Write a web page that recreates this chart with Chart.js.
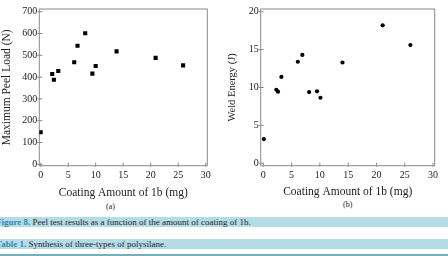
<!DOCTYPE html>
<html>
<head>
<meta charset="utf-8">
<script src="https://cdn.jsdelivr.net/npm/chart.js@4"></script>
<style>
  body { margin: 0; width: 448px; height: 256px; background: #fff; overflow: hidden; position: relative; font-family: "Liberation Serif", serif; }
  .panel { position: absolute; top: 0; width: 224px; height: 200px; }
  .sub { position: absolute; font-size: 8px; color: #222; }
  .bar { position: absolute; left: 0; width: 448px; height: 10px; background: #b4dce7; font-size: 9px; line-height: 10px; color: #1e1e1e; white-space: nowrap; }
  .bar b { color: #2f8bb0; font-weight: bold; }
  .rule { position: absolute; left: 0; top: 254px; width: 448px; height: 2px; background: #78adbb; }
</style>
</head>
<body>
<div class="panel" style="left:0"><canvas id="chartA"></canvas></div>
<div class="panel" style="left:224px"><canvas id="chartB"></canvas></div>
<div class="sub" style="left:106px; top:202px">(a)</div>
<div class="sub" style="left:343px; top:200px">(b)</div>
<div class="bar" style="top:216.5px"><span style="margin-left:-4px"></span><b>Figure 8.</b> Peel test results as a function of the amount of coating of 1b.</div>
<div class="bar" style="top:238.5px"><span style="margin-left:-4px"></span><b>Table 1.</b> Synthesis of three-types of polysilane.</div>
<div class="rule"></div>
<script>
// Values.
var xTicks = [0, 5, 10, 15, 20, 25, 30];
var peelTicks = [0, 100, 200, 300, 400, 500, 600, 700];
var weldTicks = [0, 5, 10, 15, 20];

var coatingA = [0, 2.1, 2.4, 3.2, 6.1, 6.7, 8.1, 9.4, 10, 13.8, 20.9, 25.9];
var peelLoad = [147, 414, 388, 428, 468, 544, 601, 416, 451, 518, 488, 454];

var coatingB = [0.1, 2.3, 2.6, 3.2, 6.1, 6.9, 8.1, 9.5, 10.1, 14, 21.1, 26];
var weldEnergy = [3.2, 9.7, 9.45, 11.4, 13.4, 14.3, 9.4, 9.5, 8.65, 13.3, 18.2, 15.6];

var serif = "'Liberation Serif', 'Times New Roman', serif";

// Draws the gray box round the plot and the short inward ticks.
var frameAndTicks = {
  id: "frameAndTicks",
  beforeDatasetsDraw: function (chart) {
    var ctx = chart.ctx;
    var a = chart.chartArea;
    var xs = chart.scales.x, ys = chart.scales.y;
    ctx.save();
    ctx.strokeStyle = "#8a8a8a";
    ctx.lineWidth = 1;
    ctx.strokeRect(a.left, a.top, a.right - a.left, a.bottom - a.top);
    ctx.beginPath();
    xs.ticks.forEach(function (t) {
      var px = xs.getPixelForValue(t.value);
      ctx.moveTo(px, a.bottom + 1);
      ctx.lineTo(px, a.bottom - 3);
    });
    ys.ticks.forEach(function (t) {
      var py = ys.getPixelForValue(t.value);
      ctx.moveTo(a.left - 2, py);
      ctx.lineTo(a.left + 3, py);
    });
    ctx.stroke();
    ctx.restore();
  }
};

function toPoints(xs, ys) {
  var pts = [];
  for (var i = 0; i < xs.length; i++) {
    pts.push({ x: xs[i], y: ys[i] });
  }
  return pts;
}

function makeChart(id, opts) {
  return new Chart(document.getElementById(id), {
    type: "scatter",
    data: {
      datasets: [{
        data: toPoints(opts.xData, opts.yData),
        pointStyle: opts.marker,
        pointRadius: opts.radius,
        pointBorderWidth: 0,
        backgroundColor: "#000",
        borderColor: "#000"
      }]
    },
    options: {
      responsive: false,
      animation: false,
      devicePixelRatio: 1,
      layout: { padding: { top: 9, right: opts.padRight, left: 0, bottom: 0 } },
      plugins: { legend: { display: false }, tooltip: { enabled: false } },
      scales: {
        x: {
          type: "linear",
          min: opts.xMin,
          max: opts.xMax,
          grid: { display: false, drawTicks: false },
          border: { display: false },
          afterBuildTicks: function (s) { s.ticks = xTicks.map(function (v) { return { value: v }; }); },
          afterFit: function (s) { s.height = 34.3; },
          ticks: { font: { family: serif, size: 10 }, color: "#222", padding: 4, maxRotation: 0, autoSkip: false },
          title: { display: true, text: "Coating Amount of 1b (mg)", font: { family: serif, size: 11.5 }, color: "#222", padding: { top: 0, bottom: opts.xTitlePad } }
        },
        y: {
          type: "linear",
          min: opts.yMin,
          max: opts.yMax,
          grid: { display: false, drawTicks: false },
          border: { display: false },
          afterBuildTicks: function (s) { s.ticks = opts.yTicks.map(function (v) { return { value: v }; }); },
          afterFit: function (s) { s.width = opts.yWidth; },
          ticks: { font: { family: serif, size: 10 }, color: "#222", padding: 2, autoSkip: false },
          title: { display: true, text: opts.yTitle, font: { family: serif, size: opts.yTitleSize }, color: "#222", padding: { top: opts.yTitlePad, bottom: 0 } }
        }
      }
    },
    plugins: [frameAndTicks]
  });
}

document.getElementById("chartA").width = 224;
document.getElementById("chartA").height = 200;
document.getElementById("chartB").width = 224;
document.getElementById("chartB").height = 200;

makeChart("chartA", {
  xData: coatingA, yData: peelLoad, marker: "rect", radius: 2.9,
  xMin: -0.25, xMax: 30.3, yMin: -6.4, yMax: 712.4, yTicks: peelTicks,
  yWidth: 39.3, padRight: 16.7, yTitle: "Maximum Peel Load (N)", yTitleSize: 11.5, yTitlePad: 0, xTitlePad: 0
});

makeChart("chartB", {
  xData: coatingB, yData: weldEnergy, marker: "circle", radius: 2.1,
  xMin: -0.46, xMax: 30.3, yMin: -0.32, yMax: 20.36, yTicks: weldTicks,
  yWidth: 36.7, padRight: 13.3, yTitle: "Weld Energy (J)", yTitleSize: 10.5, yTitlePad: 1.5, xTitlePad: 1.5
});
</script>
</body>
</html>
